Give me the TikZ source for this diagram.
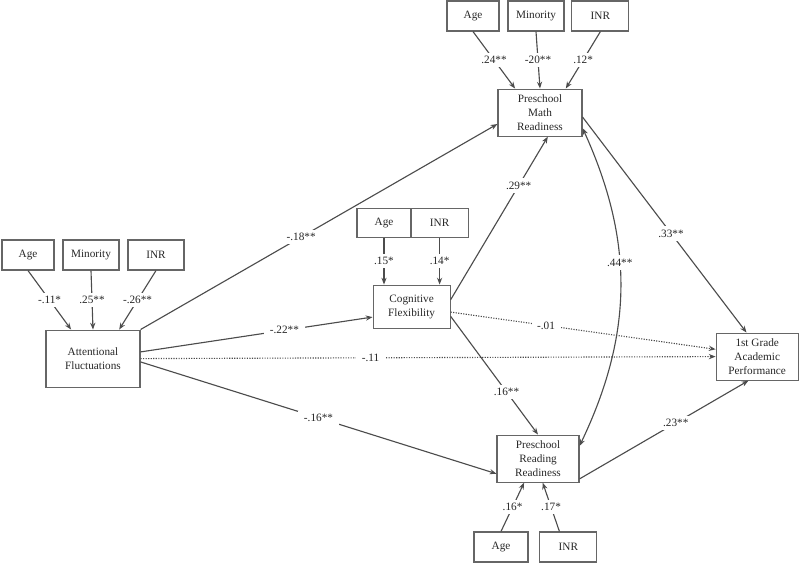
\documentclass[tikz,border=0pt]{standalone}
\usepackage{fontspec}
\setmainfont{Liberation Serif}
\usetikzlibrary{arrows.meta}

\tikzset{
  var/.style={draw=black!60, line width=0.8pt, align=center, inner sep=1pt,
    font=\fontsize{8}{10}\selectfont, text=black!85},
  cov/.style={var, minimum height=0.75cm},
  link/.style={draw=black!70, line width=0.8pt, -{Stealth[length=1.7mm,width=1.3mm]}},
  weak/.style={link, densely dotted},
  twoway/.style={link, {Stealth[length=1.7mm,width=1.3mm]}-{Stealth[length=1.7mm,width=1.3mm]}},
  coef/.style={fill=white, inner xsep=4pt, inner ysep=2.5pt, font=\fontsize{8}{10}\selectfont, text=black!85}
}

\begin{document}
\begin{tikzpicture}
\useasboundingbox (0,0) rectangle (20,14.075);

\node[var, minimum width=2.35cm, minimum height=1.425cm] (att) at (2.325,5.11) {Attentional\\Fluctuations};
\node[var, minimum width=1.925cm, minimum height=1.075cm] (cog) at (10.29,6.41) {Cognitive\\Flexibility};
\node[var, minimum width=2.1cm, minimum height=1.175cm] (math) at (13.5,11.26) {Preschool\\Math\\Readiness};
\node[var, minimum width=2.05cm, minimum height=1.175cm] (read) at (13.45,2.61) {Preschool\\Reading\\Readiness};
\node[var, minimum width=2.05cm, minimum height=1.175cm] (grade) at (18.93,5.16) {1st Grade\\Academic\\Performance};

\node[cov, minimum width=1.3cm] (attAge) at (0.7,7.7) {Age};
\node[cov, minimum width=1.4cm] (attMin) at (2.275,7.7) {Minority};
\node[cov, minimum width=1.4cm] (attINR) at (3.9,7.7) {INR};

\node[cov, minimum width=1.3cm] (mathAge) at (11.825,13.675) {Age};
\node[cov, minimum width=1.4cm] (mathMin) at (13.4,13.675) {Minority};
\node[cov, minimum width=1.425cm] (mathINR) at (15.01,13.675) {INR};

\node[cov, minimum width=1.35cm, minimum height=0.725cm] (cogAge) at (9.6,8.51) {Age};
\node[cov, minimum width=1.425cm, minimum height=0.725cm] (cogINR) at (10.99,8.51) {INR};

\node[cov, minimum width=1.35cm] (readAge) at (12.525,0.4) {Age};
\node[cov, minimum width=1.425cm] (readINR) at (14.21,0.4) {INR};

\draw[link] (attAge.south) -- node[coef] {-.11*} (att.127);
\draw[link] (attMin.south) -- node[coef] {.25**} (att.north);
\draw[link] (attINR.south) -- node[coef] {-.26**} (att.48);

\draw[link] (mathAge.south) -- node[coef] {.24**} (math.136);
\draw[link] (mathMin.south) -- node[coef] {-20**} (math.north);
\draw[link] (mathINR.south) -- node[coef] {.12*} (math.43);

\draw[link] (cogAge.south) -- node[coef] {.15*} (cogAge.south |- cog.north);
\draw[link] (cogINR.south) -- node[coef] {.14*} (cogINR.south |- cog.north);

\draw[link] (readAge.north) -- node[coef] {.16*} (read.240);
\draw[link] (readINR.120) -- node[coef] {.17*} (read.281);

\draw[link] (att.north east) -- node[coef, pos=0.45] {-.18**} (math.195);
\draw[link] (att.8) -- node[coef, pos=0.62] {-.22**} (cog.195);
\draw[weak] (att.east) -- node[coef, pos=0.4] {-.11} (grade.west);
\draw[link] (att.356) -- node[coef, pos=0.5] {-.16**} (read.200);

\draw[link] (cog.10) -- node[coef, pos=0.7] {.29**} (math.288);
\draw[weak] (cog.352) -- node[coef, pos=0.36] {-.01} (grade.170);
\draw[link] (cog.346) -- node[coef, pos=0.64] {.16**} (read.north);

\draw[link] (math.354) -- node[coef, pos=0.54] {.33**} (grade.114);
\draw[link] (read.334) -- node[coef, pos=0.57] {.23**} (grade.250);
\draw[twoway] (math.340) to[bend left=25] node[coef, pos=0.42] {.44**} (read.17);
\end{tikzpicture}
\end{document}
